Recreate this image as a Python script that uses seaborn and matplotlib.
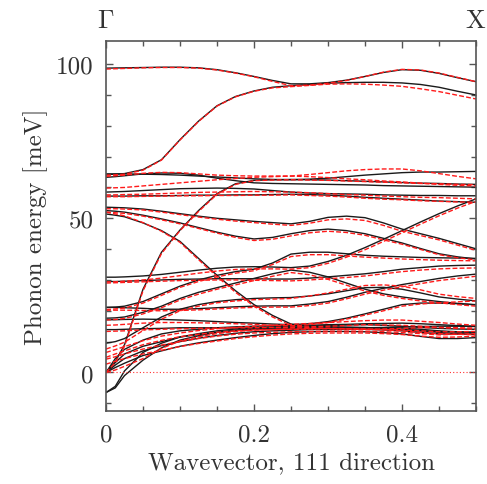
import numpy as np
import pandas as pd
import matplotlib
matplotlib.use("Agg")
import matplotlib.pyplot as plt
import seaborn as sns
from matplotlib.ticker import MultipleLocator

# Wavevector samples along Gamma -> X (111 direction)
q = [0.0, 0.0125, 0.025, 0.05, 0.075, 0.1, 0.125, 0.15, 0.175, 0.2, 0.225,
     0.25, 0.275, 0.3, 0.325, 0.35, 0.375, 0.4, 0.425, 0.45, 0.475, 0.5]

# Phonon branches, model A (solid black), meV
bands_a = [
    [98.7, 98.75, 98.8, 98.9, 99.0, 99.0, 98.8, 98.2, 97.2, 96.0, 94.7, 93.6, 93.6, 94.0, 94.8, 96.0, 97.3, 98.2, 98.0, 97.0, 95.6, 94.3],
    [64.2, 64.3, 64.5, 65.8, 69.0, 75.5, 81.5, 86.5, 89.5, 91.3, 92.5, 93.0, 93.4, 93.8, 94.0, 94.1, 94.1, 93.9, 93.4, 92.5, 91.2, 90.0],
    [64.4, 64.4, 64.4, 64.3, 64.2, 64.0, 63.7, 63.4, 63.1, 62.8, 62.6, 62.5, 62.7, 63.0, 63.5, 64.0, 64.4, 64.8, 65.0, 65.0, 65.1, 65.2],
    [63.3, 63.5, 63.8, 64.4, 64.7, 64.6, 64.0, 63.0, 62.2, 61.5, 61.3, 61.2, 61.1, 61.0, 60.9, 60.8, 60.6, 60.5, 60.4, 60.3, 60.2, 60.1],
    [58.5, 58.6, 58.7, 59.0, 59.3, 59.6, 59.7, 59.8, 59.7, 59.5, 59.0, 58.5, 58.2, 58.0, 57.9, 57.8, 57.6, 57.5, 57.4, 57.4, 57.3, 57.3],
    [57.2, 57.2, 57.2, 57.3, 57.3, 57.4, 57.5, 57.5, 57.6, 57.6, 57.7, 57.8, 57.7, 57.5, 57.2, 56.8, 56.5, 56.2, 55.9, 55.6, 55.4, 55.2],
    [30.9, 30.9, 31.0, 31.3, 31.8, 32.5, 33.2, 33.8, 34.2, 34.3, 34.2, 34.0, 34.5, 36.0, 38.0, 40.5, 43.2, 46.0, 48.8, 51.5, 54.0, 56.3],
    [53.6, 53.5, 53.4, 53.0, 52.3, 51.5, 50.7, 50.0, 49.5, 49.0, 48.6, 48.2, 49.0, 50.3, 50.7, 50.2, 48.5, 46.5, 45.0, 43.5, 41.8, 40.1],
    [52.5, 52.3, 52.0, 51.0, 49.8, 48.5, 47.0, 45.5, 44.2, 43.3, 43.8, 45.0, 46.0, 46.5, 46.0, 45.0, 43.5, 42.0, 40.2, 38.5, 37.5, 36.8],
    [51.4, 51.0, 50.5, 48.5, 46.0, 42.5, 37.0, 31.5, 26.5, 22.0, 18.5, 15.7, 15.0, 14.8, 14.6, 14.5, 14.6, 14.8, 14.9, 15.0, 15.0, 14.9],
    [0.0, 3.5, 9.0, 27.0, 39.0, 46.2, 52.5, 58.0, 61.2, 62.3, 62.5, 62.6, 62.5, 62.4, 62.2, 62.0, 61.8, 61.6, 61.4, 61.3, 61.1, 61.0],
    [21.1, 21.2, 21.5, 23.0, 25.5, 28.0, 30.0, 31.5, 32.7, 33.5, 35.5, 38.4, 39.0, 39.0, 38.5, 38.0, 37.7, 37.5, 37.3, 37.2, 37.1, 37.0],
    [29.5, 29.5, 29.6, 29.8, 30.0, 30.2, 30.3, 30.4, 30.4, 30.4, 30.3, 30.3, 30.6, 31.0, 31.5, 32.0, 32.7, 33.5, 34.0, 34.5, 34.7, 34.8],
    [17.6, 17.7, 18.0, 19.5, 21.5, 24.0, 26.0, 27.5, 29.0, 30.5, 32.0, 33.2, 32.5, 31.0, 29.0, 27.0, 25.5, 24.5, 23.7, 23.0, 22.4, 21.9],
    [9.5, 10.0, 11.0, 14.5, 18.0, 20.5, 22.0, 23.0, 23.6, 24.0, 24.2, 24.3, 24.8, 25.5, 26.5, 27.5, 27.6, 27.0, 25.8, 24.5, 23.8, 23.2],
    [17.1, 17.1, 17.2, 17.3, 17.2, 17.0, 16.8, 16.5, 16.2, 16.0, 15.7, 15.5, 15.8, 16.5, 17.6, 19.0, 20.5, 22.0, 22.5, 22.5, 22.3, 22.0],
    [21.1, 21.1, 21.0, 20.8, 20.5, 20.5, 20.7, 21.0, 21.3, 21.5, 21.6, 21.6, 22.2, 23.0, 24.4, 26.0, 27.3, 28.5, 29.5, 30.5, 31.3, 31.9],
    [13.9, 13.9, 14.0, 14.2, 14.3, 14.5, 14.5, 14.5, 14.4, 14.3, 14.1, 14.0, 14.1, 14.2, 14.4, 14.5, 14.3, 14.0, 13.6, 13.3, 13.1, 13.0],
    [0.0, 1.6, 3.0, 5.5, 7.0, 8.5, 9.6, 10.5, 11.3, 12.0, 12.6, 13.0, 13.2, 13.3, 13.3, 13.2, 12.9, 12.5, 11.7, 11.0, 11.0, 11.3],
    [0.0, 2.4, 4.5, 7.0, 8.7, 10.0, 11.1, 12.0, 12.7, 13.2, 13.5, 13.7, 13.9, 14.0, 14.0, 14.0, 13.8, 13.5, 13.0, 12.5, 12.4, 12.4],
    [0.0, 3.2, 6.0, 8.5, 10.0, 11.5, 12.3, 13.0, 13.6, 14.0, 14.1, 14.2, 14.4, 14.5, 14.5, 14.5, 14.5, 14.5, 14.0, 13.5, 13.2, 13.0],
    [-6.5, -4.5, 0.5, 6.5, 9.5, 11.5, 12.6, 13.5, 14.1, 14.5, 14.8, 15.0, 15.1, 15.2, 15.4, 15.5, 15.3, 15.0, 14.6, 14.3, 14.1, 14.0],
    [-6.5, -5.0, -1.0, 4.0, 8.0, 10.5, 11.9, 13.0, 13.7, 14.2, 14.4, 14.6, 14.7, 14.8, 14.7, 14.6, 14.3, 14.0, 13.5, 13.0, 12.6, 12.4],
    [0.0, 4.5, 7.5, 10.5, 12.5, 13.5, 14.0, 14.5, 14.8, 15.0, 15.1, 15.2, 15.3, 15.5, 15.6, 15.8, 15.9, 16.0, 15.8, 15.5, 15.2, 15.0],
]

# Phonon branches, model B (dashed red), meV
bands_b = [
    [98.4, 98.5, 98.6, 98.8, 98.9, 98.9, 98.7, 98.1, 97.1, 95.9, 94.4, 93.0, 93.2, 93.8, 94.7, 96.0, 97.4, 98.3, 98.1, 97.1, 95.7, 94.3],
    [64.0, 64.1, 64.3, 65.6, 68.9, 75.4, 81.4, 86.4, 89.4, 91.2, 92.3, 92.7, 93.1, 93.5, 93.6, 93.5, 93.2, 92.8, 92.0, 91.1, 89.9, 88.7],
    [63.6, 63.8, 64.0, 64.6, 64.9, 64.8, 64.4, 64.0, 63.8, 63.7, 63.7, 63.7, 64.2, 64.8, 65.4, 65.8, 66.0, 66.0, 65.4, 64.5, 63.6, 62.8],
    [59.8, 59.9, 60.0, 60.5, 61.0, 61.5, 62.0, 62.5, 62.9, 63.3, 63.5, 63.7, 63.5, 63.2, 62.8, 62.5, 62.1, 61.8, 61.4, 61.0, 60.7, 60.5],
    [57.6, 57.6, 57.7, 57.8, 58.0, 58.2, 58.4, 58.5, 58.6, 58.7, 58.6, 58.5, 58.3, 58.0, 57.7, 57.5, 57.2, 57.0, 56.8, 56.7, 56.5, 56.3],
    [57.0, 57.0, 57.0, 57.1, 57.2, 57.3, 57.3, 57.4, 57.4, 57.5, 57.5, 57.6, 57.4, 57.2, 56.9, 56.5, 56.2, 56.0, 55.7, 55.5, 55.3, 55.2],
    [29.4, 29.4, 29.6, 30.0, 30.6, 31.4, 32.2, 32.9, 33.4, 33.6, 33.6, 33.5, 34.0, 35.4, 37.4, 39.8, 42.5, 45.3, 48.1, 50.8, 53.3, 55.5],
    [53.1, 53.1, 53.0, 52.7, 52.0, 51.2, 50.4, 49.7, 49.1, 48.6, 48.1, 47.7, 48.4, 49.5, 49.8, 49.3, 47.7, 45.8, 44.4, 43.0, 41.3, 39.6],
    [52.0, 51.8, 51.6, 50.7, 49.5, 48.2, 46.7, 45.2, 43.8, 42.8, 43.2, 44.3, 45.3, 45.8, 45.4, 44.5, 43.0, 41.6, 39.9, 38.2, 37.2, 36.5],
    [52.0, 51.4, 50.8, 48.6, 45.8, 42.2, 36.6, 31.1, 26.0, 21.5, 18.0, 15.2, 14.5, 14.3, 14.1, 14.0, 14.1, 14.3, 14.5, 14.6, 14.5, 14.4],
    [0.0, 3.2, 8.5, 26.5, 38.6, 46.0, 52.2, 57.8, 61.0, 62.2, 62.4, 62.5, 62.4, 62.3, 62.1, 61.9, 61.7, 61.5, 61.3, 61.2, 61.0, 60.9],
    [20.4, 20.6, 20.9, 22.5, 25.0, 27.6, 29.5, 31.0, 32.2, 33.0, 35.0, 37.6, 38.2, 38.2, 37.8, 37.4, 37.1, 36.8, 36.6, 36.4, 36.3, 36.2],
    [29.0, 29.1, 29.2, 29.4, 29.6, 29.8, 29.9, 30.0, 30.0, 29.9, 29.8, 29.7, 30.0, 30.4, 30.8, 31.3, 32.0, 32.7, 33.2, 33.6, 33.8, 33.9],
    [17.0, 17.2, 17.5, 19.0, 21.0, 23.5, 25.4, 27.0, 28.4, 29.8, 31.2, 32.4, 31.7, 30.2, 28.3, 26.4, 25.0, 24.0, 23.2, 22.6, 22.0, 21.5],
    [7.6, 8.6, 9.8, 13.6, 17.3, 20.0, 21.5, 22.6, 23.2, 23.6, 23.8, 24.0, 24.8, 25.8, 27.0, 28.2, 28.4, 28.0, 26.8, 25.4, 24.6, 24.0],
    [15.3, 15.4, 15.6, 16.0, 16.2, 16.2, 16.1, 16.0, 15.8, 15.6, 15.3, 15.1, 15.5, 16.2, 17.3, 18.6, 20.0, 21.5, 22.2, 22.6, 22.9, 23.2],
    [20.2, 20.2, 20.2, 20.1, 20.0, 20.1, 20.3, 20.6, 20.9, 21.1, 21.2, 21.2, 21.7, 22.5, 23.9, 25.4, 26.7, 27.8, 28.8, 29.8, 30.5, 31.2],
    [13.3, 13.4, 13.5, 13.8, 14.0, 14.2, 14.3, 14.4, 14.5, 14.5, 14.6, 14.6, 14.8, 15.0, 15.2, 15.5, 15.4, 15.3, 15.0, 14.6, 14.3, 14.0],
    [2.7, 3.6, 4.5, 6.0, 7.2, 8.4, 9.4, 10.2, 11.0, 11.6, 12.1, 12.5, 12.7, 12.8, 12.8, 12.8, 12.6, 12.3, 11.8, 11.4, 11.5, 11.8],
    [4.3, 5.1, 6.0, 7.6, 8.9, 10.0, 11.0, 11.8, 12.4, 12.8, 13.0, 13.2, 13.3, 13.4, 13.4, 13.4, 13.2, 13.0, 12.6, 12.2, 12.4, 12.6],
    [4.9, 6.0, 7.0, 9.0, 10.4, 11.6, 12.4, 13.0, 13.5, 13.8, 13.9, 14.0, 14.1, 14.2, 14.1, 14.0, 13.9, 13.8, 13.5, 13.2, 13.2, 13.3],
    [6.5, 7.4, 8.4, 10.3, 11.8, 12.8, 13.6, 14.2, 14.6, 15.0, 15.3, 15.6, 15.9, 16.2, 16.5, 16.8, 17.0, 17.0, 16.6, 16.2, 15.7, 15.3],
    [0.0, 0.8, 2.0, 4.5, 7.8, 10.2, 11.6, 12.6, 13.3, 13.7, 13.9, 14.1, 14.2, 14.3, 14.2, 14.1, 13.8, 13.5, 13.0, 12.6, 12.4, 12.2],
]

# Zero-energy reference branch of model B (dotted red)
zero_branch = [0.0] * len(q)


def to_frame(bands):
    rows = []
    for i, b in enumerate(bands):
        for qi, e in zip(q, b):
            rows.append({"q": qi, "E": e, "band": i})
    return pd.DataFrame(rows)


df_a = to_frame(bands_a)
df_b = to_frame(bands_b)
df_zero = to_frame([zero_branch])

sns.set_style("ticks")
plt.rcParams["font.family"] = ["cmr10", "DejaVu Serif"]
plt.rcParams["mathtext.fontset"] = "cm"
plt.rcParams["axes.formatter.use_mathtext"] = True
plt.rcParams["axes.unicode_minus"] = False

text_col = "#333333"
spine_col = "#555555"

fig = plt.figure(figsize=(4.87, 4.85), dpi=100)
ax = fig.add_axes([0.2177, 0.1505, 0.7597, 0.7629])

sns.lineplot(data=df_a, x="q", y="E", units="band", estimator=None,
             sort=False, color="#1a1a1a", lw=1.0, ax=ax, legend=False)
sns.lineplot(data=df_b, x="q", y="E", units="band", estimator=None,
             sort=False, color="#ff1a1a", lw=1.0, ls=(0, (3.5, 1.6)),
             ax=ax, legend=False)
sns.lineplot(data=df_zero, x="q", y="E", units="band", estimator=None,
             sort=False, color="#ff3030", lw=0.8, ls=(0, (1, 2)),
             ax=ax, legend=False)

ax.set_xlim(0, 0.5)
ax.set_ylim(-12.5, 107.5)
ax.xaxis.set_minor_locator(MultipleLocator(0.05))
ax.yaxis.set_minor_locator(MultipleLocator(10))
ax.set_xticks([0, 0.2, 0.4])
ax.set_xticklabels(["0", "0.2", "0.4"])
ax.set_yticks([0, 50, 100])
ax.set_yticklabels(["0", "50", "100"])

ax.tick_params(which="both", direction="in", top=True, right=True,
               colors=spine_col, labelcolor=text_col, labelsize=18, width=1.0)
ax.tick_params(which="major", length=5, pad=9)
ax.tick_params(which="minor", length=3.5)
for s in ax.spines.values():
    s.set_color(spine_col)
    s.set_linewidth(1.2)

ax.set_xlabel("Wavevector, 111 direction", fontsize=18, color=text_col, labelpad=4)
ax.set_ylabel("Phonon energy [meV]", fontsize=18, color=text_col, labelpad=6)

# High-symmetry point labels above the frame
ax.text(0.0, 1.025, r"$\Gamma$", transform=ax.transAxes, ha="center",
        va="bottom", fontsize=19, color=text_col)
ax.text(1.0, 1.025, r"$\mathrm{X}$", transform=ax.transAxes, ha="center",
        va="bottom", fontsize=19, color=text_col)

fig.savefig("out.png", dpi=100)
